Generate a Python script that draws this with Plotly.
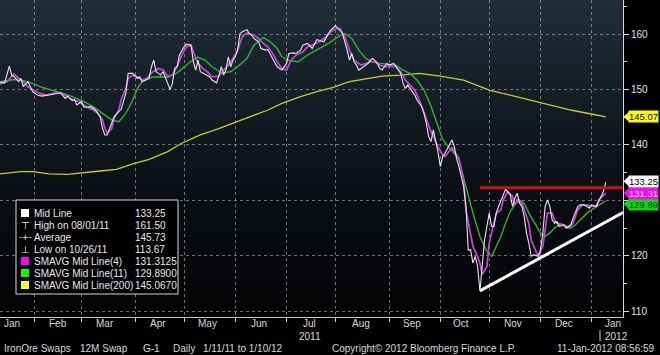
import pandas as pd
import plotly.graph_objects as go

# ---------------- data ----------------
# trading sessions (weekdays) counted from 1/11/11
sessions = pd.bdate_range("2011-01-11", "2012-01-31")

mid_day = [0, 2, 4, 5, 6, 8, 9, 10, 12, 13, 14, 16, 18, 21, 24, 26, 28, 29, 31, 32,
           33, 35, 36, 39, 41, 43, 44, 45, 46, 48, 49, 51, 52, 54, 55, 57, 59, 60, 61, 64,
           65, 66, 67, 69, 70, 72, 73, 74, 75, 76, 77, 79, 80, 82, 83, 84, 85, 86, 87, 89,
           90, 91, 93, 94, 95, 96, 97, 98, 99, 100, 101, 102, 103, 104, 106, 107, 108, 109, 111, 112,
           114, 115, 116, 117, 119, 120, 121, 123, 124, 126, 127, 129, 130, 132, 134, 136, 139, 141, 142, 144,
           145, 146, 147, 149, 150, 151, 152, 153, 154, 156, 158, 159, 160, 162, 163, 164, 166, 167, 169, 170,
           172, 173, 174, 175, 177, 178, 179, 181, 182, 183, 184, 185, 186, 187, 188, 189, 190, 191, 192, 194,
           195, 196, 197, 199, 200, 201, 202, 203, 204, 205, 206, 207, 208, 210, 211, 212, 213, 214, 216, 217,
           219, 220, 221, 222, 223, 224, 225, 226, 227, 228, 229, 231, 232, 233, 234, 235, 236, 237, 238, 239,
           240, 242, 243, 245, 246, 248, 249, 250, 252, 253, 254, 256, 257, 259, 260]
mid_val = [151.3, 151.2, 154.2, 152.6, 152.3, 151.4, 152.0, 150.5, 151.4, 150.5, 149.6, 149.0, 148.8, 149.0, 149.2, 149.4, 148.4, 148.8, 148.0, 148.2,
           147.2, 147.8, 146.8, 146.9, 146.3, 145.1, 143.0, 141.8, 141.8, 143.9, 145.1, 146.0, 146.4, 149.3, 152.9, 152.9, 152.0, 152.3, 151.4, 152.0,
           154.1, 155.3, 153.2, 152.6, 153.2, 151.1, 150.0, 151.1, 153.8, 154.1, 156.2, 157.7, 158.2, 158.0, 155.0, 153.5, 155.3, 153.2, 153.0, 152.6,
           152.3, 151.7, 151.2, 152.6, 154.1, 152.6, 153.5, 155.9, 154.1, 155.3, 155.9, 157.1, 160.1, 160.4, 160.8, 160.1, 159.8, 159.2, 158.6, 157.4,
           157.1, 157.2, 156.5, 155.6, 154.1, 153.8, 153.5, 154.7, 156.5, 156.6, 156.5, 157.1, 158.0, 158.3, 157.4, 159.0, 158.6, 160.1, 160.7, 161.5,
           161.0, 160.4, 160.1, 157.1, 155.3, 156.5, 155.0, 154.4, 153.5, 154.1, 154.7, 155.3, 155.6, 154.7, 153.8, 153.5, 154.7, 154.4, 154.7, 154.1,
           152.9, 151.1, 150.2, 150.8, 149.6, 149.0, 148.1, 146.9, 145.7, 143.9, 141.5, 140.6, 142.7, 140.9, 138.8, 136.1, 137.9, 138.5, 139.4, 140.9,
           139.7, 137.5, 136.1, 132.5, 129.0, 121.0, 121.1, 118.7, 119.9, 118.1, 113.67, 118.1, 122.9, 127.7, 125.3, 125.3, 127.7, 128.9, 131.0, 132.0,
           131.0, 128.9, 130.4, 131.3, 129.5, 128.9, 127.1, 124.1, 122.3, 119.9, 120.2, 119.9, 121.1, 124.1, 128.9, 130.1, 128.9, 126.5, 125.9, 126.2,
           125.3, 125.6, 125.0, 125.6, 126.8, 128.9, 129.2, 129.2, 128.9, 128.6, 129.2, 128.9, 129.8, 131.6, 133.25]

sma4_day = [0, 3, 6, 8, 10, 12, 14, 17, 20, 23, 26, 29, 31, 34, 37, 40, 42, 44, 45, 46,
            48, 49, 51, 52, 54, 55, 57, 59, 61, 63, 65, 68, 70, 72, 74, 76, 78, 80, 82, 83,
            85, 87, 89, 91, 94, 96, 98, 100, 102, 104, 106, 109, 111, 113, 115, 117, 119, 121, 123, 125,
            127, 130, 132, 134, 137, 140, 142, 144, 146, 148, 150, 152, 155, 157, 159, 161, 163, 165, 167, 170,
            172, 174, 176, 178, 180, 182, 185, 188, 190, 191, 192, 194, 197, 199, 200, 202, 203, 205, 206, 207,
            209, 210, 212, 213, 215, 216, 218, 220, 221, 222, 224, 225, 227, 228, 230, 231, 233, 234, 235, 237,
            238, 239, 242, 244, 246, 248, 250, 252, 254, 256, 257, 260]
sma4_val = [151.0, 151.4, 152.8, 152.0, 151.4, 150.5, 150.0, 149.3, 149.0, 149.3, 149.4, 148.7, 148.2, 147.8, 146.9, 146.3, 145.7, 144.5, 143.0, 142.1,
            143.0, 144.8, 146.3, 148.1, 150.2, 152.0, 152.6, 152.3, 151.7, 152.0, 153.0, 153.8, 153.5, 152.4, 152.6, 154.1, 156.2, 157.7, 158.0, 156.8,
            154.7, 153.8, 153.2, 152.3, 152.4, 153.5, 154.4, 155.6, 157.1, 159.5, 160.2, 159.8, 159.2, 158.3, 157.7, 156.5, 155.0, 153.8, 153.5, 155.3,
            156.2, 156.8, 157.7, 158.0, 158.6, 159.5, 160.4, 161.0, 161.0, 159.5, 157.1, 155.3, 154.4, 154.7, 155.0, 155.0, 154.4, 154.1, 154.2, 154.1,
            153.2, 151.7, 150.8, 149.9, 148.1, 145.7, 142.4, 139.7, 138.2, 137.9, 138.5, 139.5, 137.6, 133.7, 128.3, 124.1, 121.7, 119.9, 118.7, 116.6,
            118.1, 122.3, 125.9, 127.7, 128.3, 130.1, 131.6, 130.7, 129.2, 130.1, 129.5, 128.3, 125.9, 122.9, 120.8, 119.9, 121.7, 124.7, 127.7, 127.7,
            126.5, 125.9, 125.6, 125.0, 125.9, 128.3, 129.2, 129.2, 128.9, 129.0, 130.1, 131.3125]

sma11_day = [0, 6, 10, 14, 18, 23, 27, 31, 36, 40, 44, 48, 51, 54, 57, 59, 61, 65, 69, 72,
             76, 79, 83, 85, 88, 91, 95, 99, 102, 106, 109, 113, 116, 119, 121, 124, 128, 132, 136, 141,
             145, 148, 151, 154, 157, 160, 163, 167, 170, 173, 176, 179, 182, 185, 188, 190, 193, 196, 197, 200,
             203, 206, 209, 211, 212, 215, 217, 219, 221, 223, 225, 227, 230, 232, 234, 236, 238, 240, 242, 245,
             247, 250, 252, 255, 260]
sma11_val = [151.4, 151.8, 151.6, 151.1, 150.4, 149.8, 149.3, 148.7, 147.8, 146.9, 145.7, 144.5, 144.2, 145.7, 148.1, 150.2, 151.4, 152.2, 152.3, 152.2,
             153.0, 154.1, 155.4, 155.8, 155.3, 154.1, 153.0, 153.2, 154.1, 155.6, 158.0, 159.4, 158.6, 157.4, 155.9, 155.2, 155.0, 156.2, 157.2, 158.3,
             159.5, 160.1, 159.2, 157.1, 155.6, 155.0, 154.7, 154.6, 154.4, 153.5, 152.9, 151.7, 149.9, 147.0, 143.5, 141.0, 139.4, 138.0, 137.3, 132.5,
             127.7, 123.5, 120.8, 119.9, 120.8, 123.5, 125.9, 128.0, 129.2, 130.1, 129.5, 127.7, 125.6, 124.1, 123.5, 124.1, 125.0, 125.6, 125.6, 125.0,
             125.6, 126.8, 127.7, 128.6, 129.89]

sma200_day = [0, 9, 14, 21, 29, 35, 43, 50, 57, 64, 72, 78, 86, 93, 100, 107, 115, 121, 129, 136,
              143, 150, 158, 164, 172, 180, 189, 199, 210, 222, 233, 245, 256, 260]
sma200_val = [134.8, 135.2, 135.2, 134.8, 134.7, 134.9, 135.3, 135.6, 136.6, 137.4, 138.8, 140.3, 141.8, 142.8, 143.9, 145.1, 146.3, 147.5, 148.7, 149.6,
              150.4, 151.4, 152.0, 152.4, 152.6, 152.9, 152.4, 151.7, 149.9, 148.7, 147.5, 146.3, 145.4, 145.067]

# hand-drawn trend lines (start at the 10/26/11 low, run to the right edge)
trend_dates = ["2011-10-26", "2012-01-19 10:00"]
support_vals = [113.67, 127.8]
resistance_vals = [132.3, 132.3]

legend_labels = ["Mid Line", "High on 08/01/11", "Average", "Low on 10/26/11",
                 "SMAVG Mid Line(4)", "SMAVG Mid Line(11)", "SMAVG Mid Line(200)"]
legend_values = ["133.25", "161.50", "145.73", "113.67", "131.3125", "129.8900", "145.0670"]
legend_marks = ["box", "\u22a4", "-+-", "\u22a5", "box", "box", "box"]

tag_values = [145.07, 129.89, 131.31, 133.25]
tag_texts = ["145.07", "129.89", "131.31", "133.25"]

month_names = ["Jan", "Feb", "Mar", "Apr", "May", "Jun", "Jul", "Aug", "Sep", "Oct", "Nov", "Dec", "Jan"]
month_mid = ["2011-01-18", "2011-02-15", "2011-03-15", "2011-04-15", "2011-05-16", "2011-06-15", "2011-07-15",
             "2011-08-16", "2011-09-15", "2011-10-14", "2011-11-15", "2011-12-15", "2012-01-13"]
month_starts = ["2011-02-01", "2011-03-01", "2011-04-01", "2011-05-02", "2011-06-01", "2011-07-01", "2011-08-01",
                "2011-09-01", "2011-10-03", "2011-11-01", "2011-12-01", "2012-01-02"]
y_ticks = [110, 120, 130, 140, 150, 160]

footer_parts = ["IronOre Swaps", "12M Swap", "G-1", "Daily", "1/11/11 to 1/10/12"]
footer_mid = "Copyright\u00a9 2012 Bloomberg Finance L.P."
footer_right = "11-Jan-2012 08:56:59"

# ---------------- styling ----------------
W, H = 660, 355
ML, MR, MT, MB = 0, 37, 0, 38
PW, PH = W - ML - MR, H - MT - MB
FONT = "Liberation Sans, Arial, sans-serif"
FS = 10
WHITE = "#e8e8e8"
TXT = "#d8d8d8"
GRID = "rgba(190,195,200,0.55)"
YR = [108.97, 166.14]


def px(x):
    return x / PW


def py(y):
    return 1 - y / PH


COL = {"white": "#e6e6e6", "mag": "#cc44dd", "green": "#2cb62c", "yellow": "#c9c936"}

fig = go.Figure()
fig.add_trace(go.Scatter(x=sessions[sma200_day], y=sma200_val, mode="lines",
                         line=dict(color=COL["yellow"], width=1.3), hoverinfo="skip"))
fig.add_trace(go.Scatter(x=sessions[sma11_day], y=sma11_val, mode="lines",
                         line=dict(color=COL["green"], width=1.4), hoverinfo="skip"))
fig.add_trace(go.Scatter(x=sessions[sma4_day], y=sma4_val, mode="lines",
                         line=dict(color=COL["mag"], width=1.7), hoverinfo="skip"))
fig.add_trace(go.Scatter(x=sessions[mid_day], y=mid_val, mode="lines",
                         line=dict(color=COL["white"], width=1.1), hoverinfo="skip"))
fig.add_trace(go.Scatter(x=trend_dates, y=resistance_vals, mode="lines",
                         line=dict(color="#d01010", width=3), hoverinfo="skip"))
fig.add_trace(go.Scatter(x=trend_dates, y=support_vals, mode="lines",
                         line=dict(color="#ffffff", width=3), hoverinfo="skip"))

shapes = []
# background gradient in plot area
N = 60
top = (33, 46, 58)
bot = (3, 4, 6)
for i in range(N):
    t = (i + 0.5) / N
    f = t ** 1.4
    c = tuple(int(round(bot[k] + (top[k] - bot[k]) * f)) for k in range(3))
    shapes.append(dict(type="rect", xref="paper", yref="paper", x0=0, x1=1,
                       y0=i / N, y1=(i + 1) / N + 0.002, line=dict(width=0),
                       fillcolor="rgb(%d,%d,%d)" % c, layer="below"))

# legend box
shapes.append(dict(type="rect", xref="paper", yref="paper", x0=px(16), x1=px(178),
                   y0=py(294), y1=py(200), fillcolor="#000000",
                   line=dict(color="#d8d8d8", width=1), layer="above"))

annotations = []
row_y = [213, 225, 237, 249, 261, 273, 285]
box_colors = ["#ffffff", None, None, None, "#ff00ff", "#00ff00", "#ffff00"]
for i, (lab, val, mk) in enumerate(zip(legend_labels, legend_values, legend_marks)):
    yy = row_y[i]
    if mk == "box":
        shapes.append(dict(type="rect", xref="paper", yref="paper", x0=px(21), x1=px(29),
                           y0=py(yy + 4), y1=py(yy - 4), fillcolor=box_colors[i],
                           line=dict(width=0), layer="above"))
    else:
        annotations.append(dict(x=px(25), y=py(yy), xref="paper", yref="paper", text=mk,
                                showarrow=False, xanchor="center", yanchor="middle",
                                font=dict(family="DejaVu Sans", size=8 if mk == "-+-" else 10, color=WHITE)))
    annotations.append(dict(x=px(32), y=py(yy), xref="paper", yref="paper", text=lab,
                            showarrow=False, xanchor="left", yanchor="middle",
                            font=dict(family=FONT, size=FS, color=WHITE)))
    annotations.append(dict(x=px(133), y=py(yy), xref="paper", yref="paper", text=val,
                            showarrow=False, xanchor="left", yanchor="middle",
                            font=dict(family=FONT, size=FS, color=WHITE)))

# right-axis value tags (small vertical nudges keep the stacked tags readable)
tag_bg = ["#ffff00", "#00e000", "#ff00ff", "#ffffff"]
tag_fg = ["#000000", "#003300", "#ffffff", "#000000"]
tag_shift = [0, -3, 0, 1]
pxu = PH / (YR[1] - YR[0])
dv = 5.0 / pxu
for v, t, bg, fg, sh in zip(tag_values, tag_texts, tag_bg, tag_fg, tag_shift):
    vc = v + sh / pxu
    shapes.append(dict(type="path", xref="paper", yref="y",
                       path="M %f,%f L %f,%f L %f,%f Z" % (px(623.5), vc, px(629), vc + dv, px(629), vc - dv),
                       fillcolor=bg, line=dict(width=0), layer="above"))
    annotations.append(dict(x=1, y=v, xref="paper", yref="y", text=t, showarrow=False,
                            xanchor="left", yanchor="middle", xshift=5, yshift=sh, bgcolor=bg, borderpad=0,
                            font=dict(family=FONT, size=9.5, color=fg)))

# month labels and years
for name, d in zip(month_names, month_mid):
    annotations.append(dict(x=d, y=py(323.5), xref="x", yref="paper", text=name, showarrow=False,
                            xanchor="center", yanchor="middle",
                            font=dict(family=FONT, size=FS, color=TXT)))
annotations.append(dict(x="2011-07-15", y=py(336), xref="x", yref="paper", text="2011", showarrow=False,
                        xanchor="center", yanchor="middle", font=dict(family=FONT, size=FS, color=TXT)))
annotations.append(dict(x=px(603), y=py(336), xref="paper", yref="paper", text="2012", showarrow=False,
                        xanchor="left", yanchor="middle", font=dict(family=FONT, size=FS, color=TXT)))
shapes.append(dict(type="line", xref="paper", yref="paper", x0=px(600), x1=px(600),
                   y0=py(330), y1=py(341), line=dict(color=TXT, width=1)))

# footer
footer_x = [2, 78, 141, 171, 285]
footer_anchor = ["left", "left", "left", "left", "right"]
for txt, x0, anc in zip(footer_parts, footer_x, footer_anchor):
    annotations.append(dict(x=px(x0), y=py(348), xref="paper", yref="paper", text=txt,
                            showarrow=False, xanchor=anc, yanchor="middle",
                            font=dict(family=FONT, size=FS, color=TXT)))
annotations.append(dict(x=px(330), y=py(348), xref="paper", yref="paper", text=footer_mid,
                        showarrow=False, xanchor="left", yanchor="middle",
                        font=dict(family=FONT, size=FS, color=TXT)))
annotations.append(dict(x=px(657), y=py(348), xref="paper", yref="paper", text=footer_right,
                        showarrow=False, xanchor="right", yanchor="middle",
                        font=dict(family=FONT, size=FS, color=TXT)))

fig.update_layout(
    width=W, height=H,
    margin=dict(l=ML, r=MR, t=MT, b=MB),
    paper_bgcolor="#000000",
    plot_bgcolor="rgba(0,0,0,0)",
    showlegend=False,
    shapes=shapes,
    annotations=annotations,
    xaxis=dict(type="date", range=["2011-01-11", "2012-01-19 10:00"],
               rangebreaks=[dict(bounds=["sat", "mon"])],
               tickmode="array", tickvals=month_starts, showticklabels=False,
               ticks="outside", ticklen=4, tickcolor="#c8c8c8",
               showgrid=True, gridcolor=GRID, griddash="dot", gridwidth=1,
               showline=True, linecolor="#c8c8c8", linewidth=1, zeroline=False, fixedrange=True),
    yaxis=dict(side="right", range=YR, tickmode="array", tickvals=y_ticks,
               ticks="outside", ticklen=5, tickcolor="#d8d8d8",
               tickfont=dict(family=FONT, size=FS, color="#e0e0e0"),
               showgrid=True, gridcolor=GRID, griddash="dot", gridwidth=1,
               showline=True, linecolor="#d8d8d8", linewidth=1, zeroline=False, fixedrange=True,
               minor=dict(tickvals=[115, 125, 135, 145, 155, 165], ticks="outside", ticklen=3,
                          tickcolor="#d8d8d8", showgrid=False)),
)

fig.write_html("out.html", config={"displayModeBar": False},
               post_script="document.body.style.margin='0px';document.body.style.overflow='hidden';")
